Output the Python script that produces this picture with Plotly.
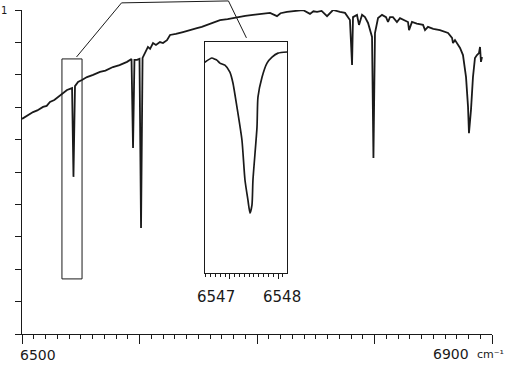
import plotly.graph_objects as go

# ---- main spectrum (wavenumber cm^-1, relative transmittance) ----
wn = [6500.0, 6502.6, 6505.5, 6509.4, 6513.0, 6517.9, 6521.0, 6523.8, 6527.5, 6530.6, 6534.5, 6538.3,
      6542.6, 6543.8, 6545.1, 6547.7, 6551.0, 6555.3, 6560.5, 6566.4, 6571.0, 6577.4, 6583.0, 6589.4,
      6593.2, 6594.5, 6595.7, 6597.9, 6600.0, 6601.3, 6602.6, 6605.0, 6607.2, 6609.0, 6611.5, 6614.0,
      6617.4, 6620.0, 6623.4, 6626.0, 6631.0, 6637.0, 6643.0, 6648.9, 6653.0, 6657.4, 6662.0, 6668.5,
      6675.0, 6683.0, 6690.0, 6696.6, 6703.0, 6711.1, 6717.0, 6720.0, 6725.5, 6732.0, 6739.1, 6745.1,
      6748.0, 6751.1, 6755.0, 6759.6, 6764.7, 6770.6, 6774.9, 6779.1, 6780.9, 6781.7, 6785.1, 6786.8,
      6789.4, 6791.9, 6794.5, 6797.9, 6799.1, 6800.4, 6803.0, 6806.4, 6809.8, 6811.5, 6813.2, 6815.7,
      6819.1, 6821.7, 6825.0, 6828.5, 6829.4, 6831.9, 6836.0, 6841.3, 6843.0, 6845.5, 6850.0, 6855.7,
      6862.6, 6866.0, 6866.8, 6868.5, 6872.8, 6875.3, 6877.9, 6879.6, 6880.4, 6882.1, 6883.8, 6885.5,
      6887.2, 6888.9, 6889.8, 6890.6, 6891.5]
trans = [0.664, 0.670, 0.674, 0.685, 0.690, 0.701, 0.704, 0.716, 0.722, 0.731, 0.740, 0.753,
         0.759, 0.485, 0.765, 0.778, 0.784, 0.793, 0.800, 0.809, 0.813, 0.824, 0.830, 0.840,
         0.849, 0.574, 0.846, 0.846, 0.849, 0.327, 0.852, 0.872, 0.886, 0.880, 0.898, 0.892,
         0.901, 0.898, 0.907, 0.923, 0.926, 0.932, 0.937, 0.944, 0.948, 0.954, 0.960, 0.969,
         0.972, 0.978, 0.982, 0.985, 0.988, 0.991, 0.981, 0.990, 0.994, 0.997, 1.000, 0.988,
         0.996, 0.994, 0.997, 0.981, 1.000, 0.994, 0.991, 0.969, 0.830, 0.978, 0.985, 0.954,
         0.985, 0.978, 0.960, 0.917, 0.543, 0.929, 0.975, 0.985, 0.978, 0.963, 0.978, 0.978,
         0.963, 0.975, 0.970, 0.963, 0.938, 0.963, 0.958, 0.954, 0.938, 0.948, 0.942, 0.938,
         0.929, 0.914, 0.898, 0.907, 0.883, 0.861, 0.793, 0.701, 0.620, 0.691, 0.793, 0.852,
         0.861, 0.867, 0.886, 0.840, 0.855]

# ---- inset: enlarged profile of the line near 6547 cm^-1 ----
inset_wn = [6546.479, 6546.625, 6546.688, 6546.729, 6546.792, 6546.896, 6547.000, 6547.063,
            6547.146, 6547.250, 6547.313, 6547.375, 6547.417, 6547.458, 6547.479, 6547.563,
            6547.583, 6547.667, 6547.771, 6547.875, 6548.000, 6548.188]
inset_tr = [0.913, 0.931, 0.926, 0.922, 0.909, 0.900, 0.870, 0.823,
            0.719, 0.576, 0.403, 0.316, 0.260, 0.294, 0.403, 0.632,
            0.762, 0.848, 0.909, 0.935, 0.952, 0.957]

main_xrange = [6500, 6900]
main_tickvals = [6500, 6600, 6700, 6800, 6900]
inset_xrange = [6546.479, 6548.188]
inset_tickvals = [6547, 6548]
main_labels = ["6500", "6900"]
inset_labels = ["6547", "6548"]
unit_label = "cm⁻¹"

# marked region in the main spectrum (wavenumber, transmittance)
box_wn = [6534.0, 6551.1]
box_tr = [0.170, 0.849]

INK = "#1a1a1a"
FONT = "DejaVu Sans"

fig = go.Figure()
fig.add_trace(go.Scatter(x=wn, y=trans, mode="lines",
                         line=dict(color=INK, width=1.8), xaxis="x", yaxis="y",
                         hoverinfo="skip", showlegend=False))
fig.add_trace(go.Scatter(x=inset_wn, y=inset_tr, mode="lines",
                         line=dict(color=INK, width=1.7, shape="spline", smoothing=0.6),
                         xaxis="x2", yaxis="y2", hoverinfo="skip", showlegend=False))

def px(w):  # wavenumber -> paper x of main axes
    return (w - main_xrange[0]) / (main_xrange[1] - main_xrange[0])

inset_dom_x = [0.389, 0.564]
inset_dom_y = [0.188, 0.901]

fig.update_layout(
    width=510, height=365,
    margin=dict(l=22, r=18, t=10, b=31),
    paper_bgcolor="white", plot_bgcolor="white",
    font=dict(family=FONT, color=INK, size=14),
    xaxis=dict(range=main_xrange, domain=[0, 1], showgrid=False, zeroline=False,
               showline=True, linecolor=INK, linewidth=1.2,
               tickmode="array", tickvals=main_tickvals, showticklabels=False,
               ticks="outside", ticklen=9, tickwidth=1.2, tickcolor=INK,
               minor=dict(dtick=10, ticks="outside", ticklen=4, tickwidth=1, tickcolor=INK,
                          showgrid=False)),
    yaxis=dict(range=[0, 1], domain=[0, 1], showgrid=False, zeroline=False,
               showline=True, linecolor=INK, linewidth=1.2,
               tickmode="linear", tick0=0, dtick=0.1, showticklabels=False,
               ticks="outside", ticklen=6, tickwidth=1, tickcolor=INK),
    xaxis2=dict(range=inset_xrange, domain=inset_dom_x, anchor="y2", showgrid=False,
                zeroline=False, showline=True, mirror=True, linecolor=INK, linewidth=1,
                tickmode="array", tickvals=inset_tickvals, showticklabels=False,
                ticks="outside", ticklen=5, tickwidth=1, tickcolor=INK,
                minor=dict(dtick=0.1, ticks="outside", ticklen=3, tickwidth=1,
                           tickcolor=INK, showgrid=False)),
    yaxis2=dict(range=[0, 1], domain=inset_dom_y, anchor="x2", showgrid=False,
                zeroline=False, showline=True, mirror=True, linecolor=INK, linewidth=1,
                showticklabels=False, ticks=""),
)

# boxed region and connector to the inset
fig.add_shape(type="rect", xref="paper", yref="paper",
              x0=px(box_wn[0]), x1=px(box_wn[1]), y0=box_tr[0], y1=box_tr[1],
              line=dict(color=INK, width=1))
conn_pts = [(px(6546.4), 0.855), (px(6584.7), 1.022), (px(6675.7), 1.028),
            (px(6691.0), 0.914)]
for (xa, ya), (xb, yb) in zip(conn_pts[:-1], conn_pts[1:]):
    fig.add_shape(type="line", xref="paper", yref="paper", x0=xa, y0=ya, x1=xb, y1=yb,
                  line=dict(color=INK, width=1))

# text
fig.add_annotation(text="1", xref="paper", yref="paper", x=-0.038, y=1.0,
                   showarrow=False, font=dict(size=10, family=FONT), xanchor="center",
                   yanchor="middle")
fig.add_annotation(text=main_labels[0], xref="paper", yref="paper", x=px(6513.6), y=-0.064,
                   showarrow=False, font=dict(size=14), xanchor="center", yanchor="middle")
fig.add_annotation(text=main_labels[1], xref="paper", yref="paper", x=px(6865.0), y=-0.062,
                   showarrow=False, font=dict(size=14), xanchor="center", yanchor="middle")
fig.add_annotation(text=unit_label, xref="paper", yref="paper", x=px(6885.5), y=-0.062,
                   showarrow=False, font=dict(size=11), xanchor="left", yanchor="middle")
fig.add_annotation(text=inset_labels[0], xref="paper", yref="paper", x=px(6664.7), y=0.114,
                   showarrow=False, font=dict(size=15), xanchor="center", yanchor="middle")
fig.add_annotation(text=inset_labels[1], xref="paper", yref="paper", x=px(6721.7), y=0.114,
                   showarrow=False, font=dict(size=15), xanchor="center", yanchor="middle")

fig.write_html("out.html", config={"displayModeBar": False},
               post_script="document.body.style.margin='0';document.body.style.overflow='hidden';")
